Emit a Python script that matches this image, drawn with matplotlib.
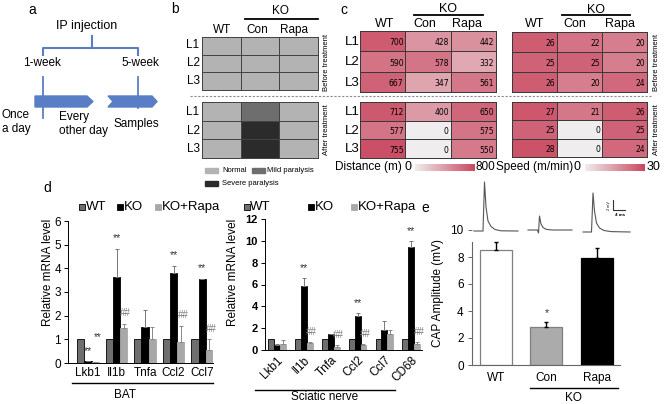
import numpy as np
import matplotlib
matplotlib.use('Agg')
import matplotlib.pyplot as plt
from matplotlib.colors import LinearSegmentedColormap, ListedColormap, Normalize
from matplotlib.patches import Polygon, Rectangle
import matplotlib.colorbar as mcolorbar

plt.rcParams['font.family'] = ['Liberation Sans', 'DejaVu Sans']

W, H = 664, 404

# ---------------- data ----------------
mice = ['L1', 'L2', 'L3']
groups = ['WT', 'Con', 'Rapa']
paralysis_before = [[0, 0, 0], [0, 0, 0], [0, 0, 0]]     # 0 normal, 1 mild, 2 severe
paralysis_after = [[0, 1, 0], [0, 2, 0], [0, 2, 0]]
paralysis_labels = ['Normal', 'Mild paralysis', 'Severe paralysis']

distance_before = [[700, 428, 442], [590, 578, 332], [667, 347, 561]]
distance_after = [[712, 400, 650], [577, 0, 575], [755, 0, 550]]
speed_before = [[26, 22, 20], [25, 25, 20], [26, 20, 24]]
speed_after = [[27, 21, 26], [25, 0, 25], [28, 0, 24]]

bat_genes = ['Lkb1', 'Il1b', 'Tnfa', 'Ccl2', 'Ccl7']
bat_wt = [1, 1, 1, 1, 1]
bat_ko = [0.07, 3.62, 1.52, 3.82, 3.57]
bat_ko_err = [0.0, 1.2, 0.72, 0.28, 0.0]
bat_rapa = [0.03, 1.5, 1.0, 0.88, 0.55]
bat_rapa_err = [0.0, 0.15, 0.53, 0.7, 0.45]
bat_ko_sig = ['**', '**', '', '**', '**']
bat_rapa_sig = ['**', '##', '', '##', '##']

sn_genes = ['Lkb1', 'Il1b', 'Tnfa', 'Ccl2', 'Ccl7', 'CD68']
sn_wt = [1, 1, 1, 1, 1, 1]
sn_ko = [0.48, 5.9, 1.42, 3.15, 1.85, 9.45]
sn_ko_err = [0.05, 0.65, 0.0, 0.25, 0.8, 0.5]
sn_rapa = [0.55, 0.65, 0.28, 0.48, 1.45, 0.55]
sn_rapa_err = [0.35, 0.1, 0.2, 0.05, 0.35, 0.2]
sn_ko_sig = ['', '**', '', '**', '', '**']
sn_rapa_sig = ['', '##', '##', '##', '', '##']

cap_groups = ['WT', 'Con', 'Rapa']
cap_amp = [8.55, 2.85, 7.9]
cap_err = [0.55, 0.35, 0.75]
cap_sig = ['', '*', '']

# ---------------- figure ----------------
fig = plt.figure(figsize=(W / 100, H / 100), dpi=100)


def pax(x0, y0, x1, y1):
    return fig.add_axes([x0 / W, 1 - y1 / H, (x1 - x0) / W, (y1 - y0) / H])


ov = fig.add_axes([0, 0, 1, 1])
ov.set_xlim(0, W)
ov.set_ylim(H, 0)
ov.axis('off')
ov.set_zorder(10)

BLUE = '#5a7ec6'
narrow = ['Liberation Sans Narrow', 'DejaVu Sans']

# ---------------- panel letters ----------------
for t, x, y in [('a', 32, 10), ('b', 175, 9), ('c', 344, 10), ('d', 47, 188), ('e', 425, 208)]:
    ov.text(x, y, t, fontsize=10, ha='center', va='center')

# ---------------- panel a (schematic) ----------------
ov.text(87, 26, 'IP injection', fontsize=9, ha='center', va='center')
ov.plot([43, 43, 138, 138], [55, 48, 48, 55], color=BLUE, lw=1.5, solid_joinstyle='round')
ov.plot([92, 92], [36, 48], color=BLUE, lw=1.5)
ov.text(42, 63, '1-week', fontsize=8.5, ha='center', va='center')
ov.text(140, 63, '5-week', fontsize=8.5, ha='center', va='center')
ov.add_patch(Polygon([[35, 96], [87, 96], [93, 101.5], [87, 107], [35, 107]], closed=True, color=BLUE))
ov.add_patch(Polygon([[108, 96], [152, 96], [157, 101.5], [152, 107], [108, 107], [113, 101.5]], closed=True, color=BLUE))
ov.plot([43, 43], [77, 118], color=BLUE, lw=1.3)
ov.plot([138, 138], [77, 108], color=BLUE, lw=1.3)
ov.text(2, 115, 'Once', fontsize=8.5, ha='left', va='center')
ov.text(2, 129, 'a day', fontsize=8.5, ha='left', va='center')
ov.text(59, 117, 'Every', fontsize=8.5, ha='left', va='center')
ov.text(59, 131, 'other day', fontsize=8.5, ha='left', va='center')
ov.text(114, 124, 'Samples', fontsize=8.5, ha='left', va='center')


# ---------------- heatmap helper ----------------
def heat(x0, y0, x1, y1, data, cmap, norm, numbers=False, lw=0.7, ec='#3a3a3a'):
    ax = pax(x0, y0, x1, y1)
    arr = np.array(data, float)
    m = ax.pcolormesh(np.arange(4), np.arange(4), arr, cmap=cmap, norm=norm,
                      edgecolors=ec, linewidth=lw)
    m.set_clip_on(False)
    ax.set_xlim(0, 3)
    ax.set_ylim(3, 0)
    ax.axis('off')
    if numbers:
        for i in range(3):
            for j in range(3):
                ax.text(j + 0.96, i + 0.58, str(data[i][j]), ha='right', va='center',
                        fontsize=5.5, family=narrow)
    return ax


# ---------------- panel b ----------------
pcmap = ListedColormap(['#b3b3b3', '#6e6e6e', '#2b2b2b'])
pnorm = Normalize(0, 2)
heat(202, 37, 318, 90, paralysis_before, pcmap, pnorm, lw=0.6, ec='#444444')
heat(202, 102, 318, 158, paralysis_after, pcmap, pnorm, lw=0.6, ec='#444444')
for i, lab in enumerate(mice):
    ov.text(193, 45 + i * 18, lab, fontsize=8.5, ha='center', va='center')
    ov.text(193, 112 + i * 18.7, lab, fontsize=8.5, ha='center', va='center')
for x, g in zip([222, 257, 294], groups):
    ov.text(x, 30, g, fontsize=8.5, ha='center', va='center')
ov.text(280, 11, 'KO', fontsize=8.5, ha='center', va='center')
ov.plot([245, 318], [19, 19], color='black', lw=1.3)
# legend
ov.add_patch(Rectangle((205, 168), 13, 4.5, color='#b3b3b3'))
ov.text(222, 170.5, paralysis_labels[0], fontsize=5.5, ha='left', va='center')
ov.add_patch(Rectangle((252, 168), 13, 4.5, color='#6e6e6e'))
ov.text(267, 170.5, paralysis_labels[1], fontsize=5.5, ha='left', va='center')
ov.add_patch(Rectangle((205, 181), 13, 4.5, color='#2b2b2b'))
ov.text(222, 183.5, paralysis_labels[2], fontsize=5.5, ha='left', va='center')

# dashed separator
ov.plot([190, 651], [96, 96], color='#8a8a8a', lw=0.8, ls=(0, (2, 1.5)))

# ---------------- panel c ----------------
ccmap = LinearSegmentedColormap.from_list('pinkc', ['#efeded', '#c9475f'])
dnorm = Normalize(0, 800)
snorm = Normalize(0, 30)
heat(360, 31, 496, 92, distance_before, ccmap, dnorm, numbers=True)
heat(360, 102, 496, 158, distance_after, ccmap, dnorm, numbers=True)
heat(512, 32, 647, 92, speed_before, ccmap, snorm, numbers=True)
heat(512, 102, 647, 157, speed_after, ccmap, snorm, numbers=True)
for i, lab in enumerate(mice):
    ov.text(352, 42 + i * 20.3, lab, fontsize=9.5, ha='center', va='center')
    ov.text(352, 112 + i * 18.7, lab, fontsize=9.5, ha='center', va='center')
for x, g in zip([385, 425, 467], groups):
    ov.text(x, 24, g, fontsize=9, ha='center', va='center')
for x, g in zip([535, 575, 620], groups):
    ov.text(x, 24, g, fontsize=9, ha='center', va='center')
ov.text(448, 9, 'KO', fontsize=9, ha='center', va='center')
ov.plot([414, 483], [15, 15], color='black', lw=1.3)
ov.text(596, 10, 'KO', fontsize=9, ha='center', va='center')
ov.plot([562, 630], [15, 15], color='black', lw=1.3)
for x in [326, 656]:
    ov.text(x, 62, 'Before treatment', fontsize=5.5, rotation=90, ha='center', va='center')
    ov.text(x, 130, 'After treatment', fontsize=5.5, rotation=90, ha='center', va='center')
# colorbars
for (x0, x1, norm) in [(415, 475, dnorm), (585, 645, snorm)]:
    cax = pax(x0, 164, x1, 171)
    cb = mcolorbar.ColorbarBase(cax, cmap=ccmap, norm=norm, orientation='horizontal')
    cb.outline.set_visible(False)
    cax.set_xticks([])
ov.text(335, 167, 'Distance (m)', fontsize=8.5, ha='left', va='center')
ov.text(408, 167, '0', fontsize=9, ha='center', va='center')
ov.text(475, 167, '800', fontsize=8.5, ha='left', va='center')
ov.text(496, 167, 'Speed (m/min)', fontsize=8.5, ha='left', va='center')
ov.text(577, 167, '0', fontsize=9, ha='center', va='center')
ov.text(647, 167, '30', fontsize=9, ha='left', va='center')


# ---------------- panel d ----------------
def mrna(ax, genes, wt, ko, ko_err, rapa, rapa_err, ko_sig, rapa_sig, width, ymax, step):
    x = np.arange(len(genes))
    n = len(genes)
    ax.bar(x - width, wt, width, color='#6f6f6f', edgecolor='black', linewidth=0.6)
    ax.bar(x, ko, width, color='black', edgecolor='black', linewidth=0.6)
    ax.bar(x + width, rapa, width, color='#a8a8a8', edgecolor='#a8a8a8', linewidth=0.6)
    ax.errorbar(x, ko, yerr=[np.zeros(n), ko_err], fmt='none', ecolor='#777777',
                elinewidth=0.7, capsize=1.5, capthick=0.7)
    ax.errorbar(x + width, rapa, yerr=[np.zeros(n), rapa_err], fmt='none', ecolor='#888888',
                elinewidth=0.7, capsize=1.5, capthick=0.7)
    off = ymax * 0.04
    for i in range(n):
        if ko_sig[i]:
            ax.text(x[i], ko[i] + ko_err[i] + off, ko_sig[i], fontsize=7.5, ha='center',
                    va='bottom', color='#333333')
        if rapa_sig[i]:
            dy = off * 3.5 if rapa_sig[i] == '**' else off
            ax.text(x[i] + width * 1.3, rapa[i] + rapa_err[i] + dy, rapa_sig[i], fontsize=7,
                    ha='center', va='bottom', color='#777777' if rapa_sig[i] == '##' else '#333333')
    ax.set_ylim(0, ymax)
    ax.set_yticks(np.arange(0, ymax + 0.1, step))
    for s in ['top', 'right']:
        ax.spines[s].set_visible(False)
    ax.spines['left'].set_linewidth(0.7)
    ax.spines['bottom'].set_linewidth(0.7)
    ax.tick_params(axis='y', length=3, width=0.7, pad=2)
    ax.tick_params(axis='x', length=0)
    ax.patch.set_alpha(0)
    return x


axd1 = pax(68, 221, 213, 363)
xx = mrna(axd1, bat_genes, bat_wt, bat_ko, bat_ko_err, bat_rapa, bat_rapa_err,
          bat_ko_sig, bat_rapa_sig, 0.25, 6, 1)
axd1.set_xlim(-0.7, 4.38)
axd1.set_xticks(xx)
axd1.set_xticklabels(bat_genes, fontsize=8.5)
axd1.tick_params(axis='x', pad=3)
axd1.tick_params(axis='y', labelsize=8.5)
ov.plot([72, 213], [383, 383], color='black', lw=1.0)
ov.text(125, 395, 'BAT', fontsize=8.5, ha='center', va='center')
ov.text(48, 272, 'Relative mRNA level', fontsize=8.5, rotation=90, ha='center', va='center')

axd2 = pax(265, 219, 422, 350)
xx = mrna(axd2, sn_genes, sn_wt, sn_ko, sn_ko_err, sn_rapa, sn_rapa_err,
          sn_ko_sig, sn_rapa_sig, 0.22, 12, 2)
axd2.set_xlim(-0.45, 5.4)
axd2.set_xticks(xx)
axd2.set_xticklabels(sn_genes, fontsize=8.5, rotation=45, ha='right', rotation_mode='anchor')
axd2.tick_params(axis='x', pad=3)
axd2.tick_params(axis='y', labelsize=8)
for t in axd2.get_yticklabels():
    t.set_fontweight('bold')
ov.plot([255, 395], [390, 390], color='black', lw=1.0)
ov.text(325, 397, 'Sciatic nerve', fontsize=8.5, ha='center', va='center')
ov.text(233, 272, 'Relative mRNA level', fontsize=8.5, rotation=90, ha='center', va='center')

# legends for d
for (sx, tx, lab, col, ec) in [(79, 86, 'WT', '#6f6f6f', 'black'), (117, 124, 'KO', 'black', 'black'),
                               (155, 162, 'KO+Rapa', '#a8a8a8', '#a8a8a8'),
                               (244, 250, 'WT', '#6f6f6f', 'black'), (308, 315, 'KO', 'black', 'black'),
                               (351, 358, 'KO+Rapa', '#a8a8a8', '#a8a8a8')]:
    ov.add_patch(Rectangle((sx, 204), 5.5, 5.5, facecolor=col, edgecolor=ec, lw=0.6))
    ov.text(tx, 207, lab, fontsize=9.5, ha='left', va='center')

# ---------------- panel e ----------------
axe = pax(472, 230, 620, 365)
xe = np.arange(len(cap_groups))
axe.bar(xe, cap_amp, 0.63, color=['white', '#ababab', 'black'], edgecolor=['#808080', '#808080', 'black'],
        linewidth=0.9)
axe.errorbar(xe, cap_amp, yerr=[np.zeros(3), cap_err], fmt='none', ecolor='black', elinewidth=1.0,
             capsize=1.2, capthick=1.0)
for i in range(3):
    if cap_sig[i]:
        axe.text(xe[i], cap_amp[i] + cap_err[i] + 0.25, cap_sig[i], fontsize=7.5, ha='center', va='bottom',
                 color='#333333')
axe.set_xlim(-0.475, 2.46)
axe.set_ylim(0, 10)
axe.set_yticks(np.arange(0, 11, 2))
axe.set_xticks(xe)
axe.set_xticklabels(cap_groups, fontsize=8.5)
for s in ['top', 'right']:
    axe.spines[s].set_visible(False)
axe.spines['left'].set_bounds(0, 9.1)
for s in ['left', 'bottom']:
    axe.spines[s].set_color('#666666')
    axe.spines[s].set_linewidth(0.8)
axe.tick_params(axis='y', labelsize=8.5, length=3, width=0.7, color='#666666', pad=3)
axe.tick_params(axis='x', length=0, pad=5)
axe.patch.set_alpha(0)
ov.text(438, 293, 'CAP Amplitude (mV)', fontsize=8.5, rotation=90, ha='center', va='center')
ov.plot([530, 618], [388, 388], color='black', lw=1.0)
ov.text(573, 398, 'KO', fontsize=8.5, ha='center', va='center')

# example CAP traces (illustrative sketches)
trace_wt = ([474, 483, 484.5, 486, 488, 491, 495, 501, 518], [231, 231, 182, 207, 221, 226.5, 229.5, 230.8, 231])
trace_con = ([528, 537.5, 538.5, 539.5, 541, 543, 546, 552, 572], [230, 230, 233, 216, 224, 227.5, 229.3, 230, 230])
trace_rapa = ([583, 591.5, 593, 594.5, 596.5, 599.5, 604, 611, 630],
              [232, 232, 193, 211, 223, 228, 230.5, 231.6, 232])
for tx, ty in [trace_wt, trace_con, trace_rapa]:
    ov.plot(tx, ty, color='#555555', lw=0.8)
ov.plot([613, 613, 625], [200, 210, 210], color='#333333', lw=0.8)
ov.text(609, 205, '2 mV', fontsize=2.8, rotation=90, ha='center', va='center')
ov.text(620, 215, '4 ms', fontsize=3.2, ha='center', va='center', fontweight='bold')

fig.savefig('out.png', dpi=100)
